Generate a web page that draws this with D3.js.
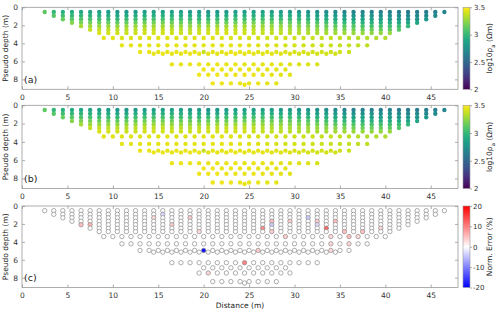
<!DOCTYPE html>
<html>
<head>
<meta charset="utf-8">
<script src="https://cdn.jsdelivr.net/npm/d3@7"></script>
<style>
body{margin:0;background:#fff}
svg{display:block;font-family:"DejaVu Sans",sans-serif}
</style>
</head>
<body>
<svg id="chart" width="500" height="313"></svg>
<script>
// pseudo depth of every measurement row and x of its first point (1 m step along the row)
var rowDepth = [0.52, 0.93, 1.32, 1.71, 2.09, 2.48, 2.86, 3.41, 4.22, 4.96, 5.15, 6.33, 6.90, 7.48, 8.44, 8.60]
var rowStart = [2.5, 3.5, 4.5, 5.5, 6.5, 7.5, 8.5, 9, 11, 13, 14.5, 16.5, 20, 19.5, 21, 24.5]

// log10 apparent resistivity, left to right in each row
var rho1 = [3.12,3.00,2.95,2.92,2.90,2.88,2.86,2.83,2.80,2.80,2.82,2.83,2.85,2.85,2.85,2.84,2.82,2.82,2.78,2.80,2.82,2.83,2.84,2.84,2.85,2.84,2.82,2.82,2.80,2.78,2.76,2.74,2.72,2.68,2.66,2.66,2.66,2.65,2.66,2.63,2.62,2.63,2.64,2.66,2.68]
var rho2 = [3.10,3.04,3.00,2.98,2.96,2.94,2.92,2.90,2.90,2.92,2.93,2.94,2.95,2.95,2.94,2.92,2.92,2.88,2.90,2.92,2.93,2.94,2.94,2.95,2.94,2.92,2.92,2.90,2.88,2.86,2.84,2.82,2.78,2.76,2.75,2.75,2.74,2.74,2.72,2.70,2.70,2.70,2.72]
var rho3 = [3.15,3.10,3.08,3.06,3.04,3.02,3.00,3.02,3.04,3.05,3.06,3.06,3.05,3.04,3.03,3.00,3.02,3.03,3.04,3.05,3.05,3.06,3.05,3.04,3.03,3.02,3.00,2.98,2.96,2.93,2.90,2.88,2.86,2.85,2.84,2.84,2.82,2.80,2.78,2.78,2.80]
var rho4 = [3.22,3.20,3.18,3.16,3.14,3.13,3.14,3.16,3.17,3.18,3.18,3.17,3.16,3.15,3.13,3.14,3.15,3.16,3.17,3.17,3.18,3.17,3.16,3.15,3.14,3.12,3.10,3.08,3.05,3.02,3.00,2.98,2.96,2.95,2.94,2.92,2.90,2.88,2.88]
var rho5 = [3.30,3.28,3.27,3.26,3.25,3.26,3.27,3.28,3.28,3.28,3.27,3.26,3.25,3.26,3.27,3.28,3.28,3.29,3.29,3.28,3.27,3.26,3.25,3.24,3.22,3.20,3.18,3.15,3.13,3.11,3.09,3.07,3.06,3.05,3.04,3.02,3.00]
var rho6 = [3.37,3.36,3.35,3.34,3.34,3.35,3.36,3.36,3.36,3.35,3.34,3.34,3.35,3.36,3.37,3.37,3.37,3.36,3.35,3.34,3.33,3.32,3.31,3.30,3.28,3.26,3.24,3.22,3.20,3.18,3.16,3.15,3.14,3.12,3.10]
var rho7 = [3.41,3.40,3.39,3.38,3.38,3.39,3.40,3.40,3.39,3.38,3.38,3.39,3.40,3.41,3.41,3.40,3.39,3.38,3.37,3.36,3.35,3.34,3.33,3.32,3.31,3.30,3.29,3.28,3.27,3.26,3.25,3.25,3.26]
var rho8 = [3.43,3.43,3.42,3.42,3.42,3.43,3.43,3.43,3.42,3.42,3.42,3.43,3.43,3.43,3.42,3.42,3.41,3.41,3.40,3.40,3.39,3.39,3.38,3.38,3.37,3.37,3.36,3.35,3.34,3.33,3.32,3.32]
var rho9 = [3.44,3.44,3.43,3.43,3.44,3.44,3.44,3.43,3.43,3.43,3.44,3.44,3.43,3.43,3.42,3.42,3.41,3.41,3.40,3.40,3.39,3.39,3.38,3.38,3.37,3.37,3.36,3.35]
var rho10 = [3.45,3.45,3.44,3.44,3.45,3.45,3.44,3.37,3.44,3.44,3.45,3.44,3.44,3.43,3.43,3.42,3.42,3.41,3.41,3.40,3.40,3.39,3.39,3.38]
var rho11 = [3.45,3.45,3.44,3.44,3.45,3.45,3.44,3.44,3.44,3.45,3.44,3.44,3.43,3.43,3.42,3.42,3.41,3.41,3.40,3.40,3.39]
var rho12 = [3.45,3.45,3.45,3.45,3.45,3.45,3.45,3.45,3.43,3.45,3.44,3.44,3.43,3.43,3.42,3.42,3.41]
var rho13 = [3.46,3.46,3.45,3.45,3.45,3.45,3.44,3.44,3.43,3.43]
var rho14 = [3.46,3.46,3.46,3.45,3.45,3.45,3.45,3.44,3.44,3.43,3.43]
var rho15 = [3.46,3.46,3.46,3.45,3.45,3.45,3.44,3.44]
var rho16 = [3.45]
var rhoRows = [rho1,rho2,rho3,rho4,rho5,rho6,rho7,rho8,rho9,rho10,rho11,rho12,rho13,rho14,rho15,rho16]

// normalised misfit (%) where it is not ~0
var errX = [6.5, 7.5, 14.5, 15.5, 16.5, 18.5, 19.5, 20, 24.5, 26.5, 27.5, 27.5, 27.5, 29.5, 31.5, 32.5, 32.5, 33.5, 34.5, 35.5, 37.5, 39.5, 29, 34, 36, 37, 34, 36, 26, 34, 20.5]
var errZ = [2.09, 2.09, 1.32, 0.93, 2.09, 1.32, 2.86, 4.96, 6.33, 2.48, 1.71, 2.09, 2.86, 1.71, 1.32, 1.71, 2.09, 2.48, 1.71, 2.86, 2.86, 2.48, 3.41, 3.41, 3.41, 3.41, 4.22, 4.22, 4.96, 4.96, 7.48]
var errVal = [5, 6, 3, -3, 4, 4, 3, -19, 10, 9, 5, -4, 4, 4, -4, 4, -3, 12, 5, 5, 5, 3, 4, 3, 5, 3, 3, 3, 4, 3, 3]

var xTicks = [0,5,10,15,20,25,30,35,40,45]
var zTicks = [0,2,4,6,8]
var rhoTicks = [2, 2.5, 3, 3.5]
var errTicks = [-20, -10, 0, 10, 20]

var points = []
rowDepth.forEach(function(z, r){
	rhoRows[r].forEach(function(v, i){
		points.push({x: rowStart[r] + i, z: z, rho: v, err: 0})
	})
})
errX.forEach(function(ex, j){
	var p = points.find(function(d){ return d.x == ex && d.z == errZ[j] })
	if(p) p.err = errVal[j]
})

var svg = d3.select('#chart')
var x = d3.scaleLinear().domain([0, 48]).range([22, 458])
var rhoColor = d3.scaleSequential(d3.interpolateViridis).domain([2, 3.5])
var errColor = d3.scaleLinear().domain([-20, 0, 20]).range(['#0000ff', '#ffffff', '#ff0000'])

var panels = [
	{top: 7.3, bottom: 89.3, tag: '(a)', kind: 'rho'},
	{top: 105.3, bottom: 188.5, tag: '(b)', kind: 'rho'},
	{top: 206, bottom: 287.5, tag: '(c)', kind: 'err'}
]

var defs = svg.append('defs')
function gradient(id, color, lo, hi){
	var lg = defs.append('linearGradient').attr('id', id)
		.attr('x1', 0).attr('y1', 1).attr('x2', 0).attr('y2', 0)
	d3.range(0, 1.0001, 0.05).forEach(function(t){
		lg.append('stop').attr('offset', t).attr('stop-color', color(lo + t * (hi - lo)))
	})
}
gradient('gRho', rhoColor, 2, 3.5)
gradient('gErr', errColor, -20, 20)

function styleAxis(g){
	g.select('.domain').remove()
	g.selectAll('line').attr('stroke', '#888').attr('stroke-width', 0.7)
	g.selectAll('text').attr('fill', '#333').style('font-size', '7.5px')
		.style('font-family', '"DejaVu Sans", sans-serif')
}

panels.forEach(function(p, k){
	var y = d3.scaleLinear().domain([0, 9.1]).range([p.top, p.bottom])
	var g = svg.append('g')

	// axes, ticks on all four sides
	g.append('g').attr('transform', 'translate(0,' + p.bottom + ')')
		.call(d3.axisBottom(x).tickValues(xTicks).tickSize(-3).tickPadding(5.5)).call(styleAxis)
	g.append('g').attr('transform', 'translate(0,' + p.top + ')')
		.call(d3.axisTop(x).tickValues(xTicks).tickSize(-3).tickFormat('')).call(styleAxis)
	g.append('g').attr('transform', 'translate(22,0)')
		.call(d3.axisLeft(y).tickValues(zTicks).tickSize(-3).tickPadding(4)).call(styleAxis)
	g.append('g').attr('transform', 'translate(458,0)')
		.call(d3.axisRight(y).tickValues(zTicks).tickSize(-3).tickFormat('')).call(styleAxis)

	// points
	var dots = g.append('g').selectAll('circle').data(points).enter().append('circle')
		.attr('cx', function(d){ return x(d.x) })
		.attr('cy', function(d){ return y(d.z) })
		.attr('r', 2.2)
	if(p.kind == 'rho'){
		dots.attr('fill', function(d){ return rhoColor(d.rho) })
	}else{
		dots.attr('fill', function(d){ return errColor(d.err) })
			.attr('stroke', '#8a8a8a').attr('stroke-width', 0.7)
	}

	g.append('rect').attr('x', 22).attr('y', p.top)
		.attr('width', 436).attr('height', p.bottom - p.top)
		.attr('fill', 'none').attr('stroke', '#999').attr('stroke-width', 0.8)

	g.append('text').attr('x', 24).attr('y', p.bottom - 6.5)
		.style('font-size', '9.5px').attr('fill', '#222').text(p.tag)

	g.append('text')
		.attr('transform', 'translate(8,' + (p.top + p.bottom) / 2 + ') rotate(-90)')
		.attr('text-anchor', 'middle').style('font-size', '7.5px').attr('fill', '#222')
		.text('Pseudo depth (m)')

	// colorbar
	var cb = p.kind == 'rho'
		? d3.scaleLinear().domain([2, 3.5]).range([p.bottom, p.top])
		: d3.scaleLinear().domain([-20, 20]).range([p.bottom, p.top])
	g.append('rect').attr('x', 463).attr('y', p.top).attr('width', 7)
		.attr('height', p.bottom - p.top)
		.attr('fill', p.kind == 'rho' ? 'url(#gRho)' : 'url(#gErr)')
		.attr('stroke', '#999').attr('stroke-width', 0.6)
	g.append('g').attr('transform', 'translate(470,0)')
		.call(d3.axisRight(cb).tickValues(p.kind == 'rho' ? rhoTicks : errTicks)
			.tickSize(2).tickPadding(p.kind == 'rho' ? 2 : 1).tickFormat(function(d){ return String(d) }))
		.call(styleAxis)
		.selectAll('text').style('font-size', '7px')

	var lab = g.append('text')
		.attr('transform', 'translate(492,' + (p.top + p.bottom) / 2 + ') rotate(-90)')
		.attr('text-anchor', 'middle').style('font-size', '7.5px').attr('fill', '#222')
	if(p.kind == 'rho'){
		lab.append('tspan').text('log10\u03c1')
		lab.append('tspan').attr('baseline-shift', 'sub').style('font-size', '5.5px').text('a')
		lab.append('tspan').text(' (\u03a9m)')
	}else{
		lab.text('Norm. Error (%)')
	}
})

svg.append('text').attr('x', 240).attr('y', 307.5)
	.attr('text-anchor', 'middle').style('font-size', '7.5px').attr('fill', '#222')
	.text('Distance (m)')
</script>
</body>
</html>
